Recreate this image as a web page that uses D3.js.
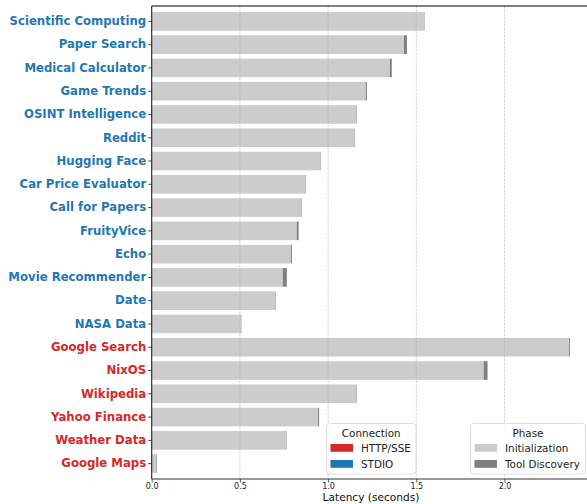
<!DOCTYPE html>
<meta charset="utf-8">
<style>
  body { margin: 0; background: #fff; }
  text { font-family: "DejaVu Sans", sans-serif; }
</style>
<svg width="587" height="504"></svg>
<script src="https://cdn.jsdelivr.net/npm/d3@7"></script>
<script>

var servers = ["Scientific Computing", "Paper Search", "Medical Calculator", "Game Trends",
  "OSINT Intelligence", "Reddit", "Hugging Face", "Car Price Evaluator", "Call for Papers",
  "FruityVice", "Echo", "Movie Recommender", "Date", "NASA Data",
  "Google Search", "NixOS", "Wikipedia", "Yahoo Finance", "Weather Data", "Google Maps"];
var connection = ["STDIO", "STDIO", "STDIO", "STDIO", "STDIO", "STDIO", "STDIO", "STDIO",
  "STDIO", "STDIO", "STDIO", "STDIO", "STDIO", "STDIO",
  "HTTP/SSE", "HTTP/SSE", "HTTP/SSE", "HTTP/SSE", "HTTP/SSE", "HTTP/SSE"];
var initTime = [1.545, 1.43, 1.35, 1.213, 1.162, 1.151, 0.958, 0.873, 0.85, 0.822, 0.789,
  0.743, 0.703, 0.509, 2.366, 1.882, 1.162, 0.943, 0.764, 0.024];
var discoveryTime = [0.002, 0.017, 0.011, 0.007, 0.002, 0.002, 0.002, 0.002, 0.002, 0.011,
  0.006, 0.023, 0.002, 0.001, 0.005, 0.022, 0.002, 0.006, 0.002, 0.004];
var xTicks = [0, 0.5, 1.0, 1.5, 2.0];

var connColor = {"HTTP/SSE": "#d62728", "STDIO": "#1f77b4"};
var phaseColor = {"Initialization": "#cccccc", "Tool Discovery": "#808080"};

var svg = d3.select("svg");
var plotLeft = 151.7, plotTop = 6, plotBottom = 479;

var x = d3.scaleLinear().domain([0, 2.47]).range([plotLeft, 587.4]);
var y = d3.scaleBand().domain(servers).range([plotTop, plotBottom])
  .paddingInner(0.2).paddingOuter(0.26);

var rows = servers.map(function(s, i) {
  return {name: s, conn: connection[i], init: initTime[i], disc: discoveryTime[i]};
});

// bars: initialization then tool discovery stacked on it
svg.append("g").selectAll("rect").data(rows).enter().append("rect")
  .attr("x", x(0))
  .attr("y", function(d) { return y(d.name); })
  .attr("width", function(d) { return x(d.init) - x(0); })
  .attr("height", y.bandwidth())
  .attr("fill", phaseColor["Initialization"]);

svg.append("g").selectAll("rect").data(rows).enter().append("rect")
  .attr("x", function(d) { return x(d.init); })
  .attr("y", function(d) { return y(d.name); })
  .attr("width", function(d) { return x(d.init + d.disc) - x(d.init); })
  .attr("height", y.bandwidth())
  .attr("fill", phaseColor["Tool Discovery"]);

// dashed vertical grid on top
svg.append("g").selectAll("line").data(xTicks.slice(1)).enter().append("line")
  .attr("x1", function(d) { return x(d); }).attr("x2", function(d) { return x(d); })
  .attr("y1", plotTop).attr("y2", plotBottom)
  .attr("stroke", "#b0b0b0").attr("stroke-opacity", 0.7)
  .attr("stroke-width", 0.8).attr("stroke-dasharray", "2.4,1.2");

// x axis
var xAxis = svg.append("g").attr("transform", "translate(0," + plotBottom + ")")
  .call(d3.axisBottom(x).tickValues(xTicks).tickFormat(d3.format(".1f")).tickSize(3.5).tickPadding(1));
xAxis.select(".domain").remove();
xAxis.selectAll("line").attr("stroke", "#333").attr("stroke-width", 0.8);
xAxis.selectAll("text").attr("font-size", "8px").attr("fill", "#222")
  .style("font-family", "DejaVu Sans");

// y axis
var yAxis = svg.append("g").attr("transform", "translate(" + plotLeft + ",0)")
  .call(d3.axisLeft(y).tickSize(3.5).tickPadding(2));
yAxis.select(".domain").remove();
yAxis.selectAll("line").attr("stroke", "#222").attr("stroke-width", 0.8);
yAxis.selectAll("text")
  .attr("font-size", "11.7px").attr("font-weight", "bold")
  .style("font-family", "DejaVu Sans")
  .attr("fill", function(d, i) { return connColor[connection[i]]; });

// spines
svg.append("line").attr("x1", plotLeft).attr("x2", plotLeft).attr("y1", plotTop).attr("y2", plotBottom)
  .attr("stroke", "#222").attr("stroke-width", 1.1);
svg.append("line").attr("x1", plotLeft).attr("x2", 587).attr("y1", plotBottom).attr("y2", plotBottom)
  .attr("stroke", "#333").attr("stroke-width", 1.1);
svg.append("line").attr("x1", plotLeft).attr("x2", 587).attr("y1", plotTop).attr("y2", plotTop)
  .attr("stroke", "#000").attr("stroke-width", 1.1);

svg.append("text").attr("x", 371).attr("y", 501).attr("text-anchor", "middle")
  .attr("font-size", "10.6px").attr("fill", "#111").text("Latency (seconds)");

// legends
function legend(gx, gy, w, title, keys, colors) {
  var g = svg.append("g").attr("transform", "translate(" + gx + "," + gy + ")");
  g.append("rect").attr("width", w).attr("height", 50.5).attr("rx", 3)
    .attr("fill", "#fff").attr("fill-opacity", 0.8)
    .attr("stroke", "#d6d6d6").attr("stroke-width", 0.8);
  g.append("text").attr("x", w / 2).attr("y", 13).attr("text-anchor", "middle")
    .attr("font-size", "10.4px").attr("fill", "#222").text(title);
  keys.forEach(function(k, i) {
    g.append("rect").attr("x", 4).attr("y", 20.5 + i * 16).attr("width", 22.5).attr("height", 7.8)
      .attr("fill", colors[k]);
    g.append("text").attr("x", 34.5).attr("y", 28.5 + i * 16)
      .attr("font-size", "10.4px").attr("fill", "#222").text(k);
  });
}
legend(326.5, 423.5, 89.5, "Connection", ["HTTP/SSE", "STDIO"], connColor);
legend(470.5, 423.5, 115, "Phase", ["Initialization", "Tool Discovery"], phaseColor);

</script>
